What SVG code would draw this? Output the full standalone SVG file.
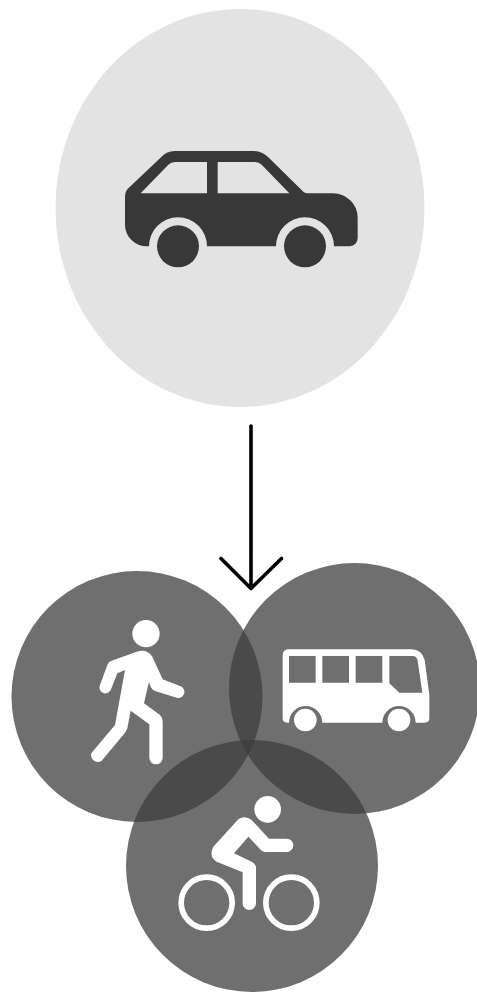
<svg xmlns="http://www.w3.org/2000/svg" width="477" height="992" viewBox="0 0 477 992">
  <style>
    .dark { fill: #383838; }
    .mode { fill: #3d3d3d; fill-opacity: .743; }
    .icon { fill: #fff; }
    .arrow { fill: none; stroke: #000; stroke-width: 3.6; stroke-linecap: round; stroke-linejoin: round; }
  </style>
  <rect width="477" height="992" fill="#fff"/>
  <g id="car">
    <ellipse cx="240" cy="208" rx="184.5" ry="199" fill="#e3e3e3"/>
    <g transform="translate(110 130) scale(.33333)">
      <path class="dark" fill-rule="evenodd" d="M45,200 Q45,185 55,175 L150,85 Q168,63 195,63 L430,63 Q458,63 478,85 L580,185 Q585,190 595,190 L670,190 A73,73 0 0 1 743,263 L743,325 A24,24 0 0 1 720,349 L672,349 A87,87 0 0 0 498,349 L291,349 A87,87 0 0 0 117,349 L110,349 A65,65 0 0 1 45,285 Z M92,190 L291,190 L291,96 L195,96 Q183,96 175,104 Z M323,190 L538,190 L455,104 Q447,96 435,96 L323,96 Z"/>
      <circle class="dark" cx="204" cy="349" r="63"/>
      <circle class="dark" cx="585" cy="349" r="63"/>
    </g>
  </g>
  <g id="connectors">
    <path class="arrow" d="M251,426 V588 M221,558.5 L251,588.5 L281.5,558.5"/>
  </g>
  <g id="pedestrian">
    <circle class="mode" cx="137" cy="696.5" r="125.5"/>
  </g>
  <g id="bus">
    <circle class="mode" cx="354.5" cy="688.5" r="125.5"/>
  </g>
  <g id="bicycle">
    <circle class="mode" cx="252" cy="866" r="126"/>
  </g>
  <g id="pedestrian-icon" transform="translate(80 610) scale(.33333)">
    <circle class="icon" cx="198" cy="71" r="41"/>
    <path class="icon" d="M60,225 L82,165 Q85,155 95,152 L170,125 Q200,115 217,140 L248,208 L300,228 A18,18 0 0 1 290,263 L225,243 Q212,238 207,215 L192,280 L240,315 Q248,322 248,335 L248,443 A20,20 0 0 1 208,443 L208,343 L152,302 L142,355 Q140,362 135,368 L65,452 A20,20 0 0 1 35,428 L105,345 L135,180 L112,190 L92,240 A17,17 0 0 1 60,225 Z"/>
  </g>
  <g id="bus-icon" transform="translate(270 640) scale(.33333)">
    <path class="icon" fill-rule="evenodd" d="M58,28 L425,28 Q455,28 464,60 L478,165 L478,235 Q478,248 463,248 L437,248 A50,50 0 1 0 337,248 L157,248 A50,50 0 1 0 57,248 L52,248 Q38,248 38,235 L38,45 Q38,28 58,28 Z M57,48 V128 H137 V48 Z M157,48 V128 H237 V48 Z M257,48 V128 H337 V48 Z M358,48 V130 L388,158 H457 L443,62 Q441,48 428,48 Z"/>
    <circle class="icon" cx="106" cy="240" r="34"/>
    <circle class="icon" cx="387" cy="240" r="34"/>
  </g>
  <g id="bicycle-icon" transform="translate(170 785) scale(.33333)">
    <circle class="icon" cx="293" cy="73" r="40"/>
    <path class="icon" d="M205,103 Q225,90 245,105 L297,161 L350,161 A20,20 0 0 1 350,201 L285,201 Q277,200 272,194 L235,155 L192,205 L245,230 Q258,237 258,250 L258,355 A20,20 0 0 1 218,355 L218,262 L140,230 Q115,215 130,185 Z"/>
    <circle cx="110" cy="353" r="76.5" fill="none" stroke="#fff" stroke-width="17"/>
    <circle cx="364" cy="353" r="76.5" fill="none" stroke="#fff" stroke-width="17"/>
  </g>
</svg>
